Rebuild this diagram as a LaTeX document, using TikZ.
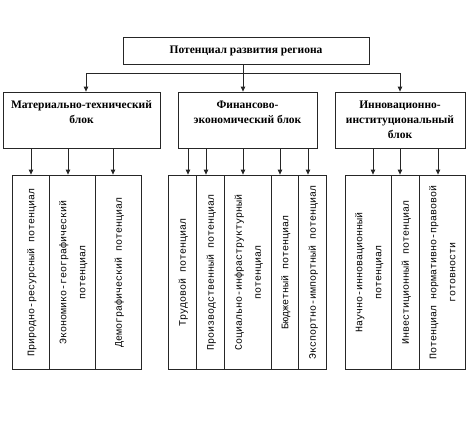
\documentclass[tikz,border=0pt]{standalone}
\usepackage{fontspec}
\setmainfont{Liberation Serif}
\newfontfamily\cellfont{Liberation Mono}
\usetikzlibrary{arrows.meta}
\newcommand{\vtext}[1]{\rotatebox{90}{\cellfont\fontsize{10}{19}\selectfont\begin{tabular}{@{}c@{}}#1\end{tabular}}}
\tikzset{
  box/.style={draw=black!85, line width=0.8pt, fill=white, inner sep=0pt, align=center},
  topbox/.style={box, font=\bfseries\fontsize{11.5}{15}\selectfont},
  blockbox/.style={box, font=\bfseries\fontsize{11.5}{15}\selectfont},
  cellbox/.style={box, minimum height=194pt},
  arr/.style={draw=black!85, line width=0.8pt, -{Triangle[length=5pt,width=4.5pt]}},
  ln/.style={draw=black!85, line width=0.8pt}
}
\begin{document}
\begin{tikzpicture}[x=1pt,y=-1pt]
\useasboundingbox (0,0) rectangle (474,434);
% top
\node[topbox, minimum width=246pt, minimum height=27pt] (top) at (246,50.5) {Потенциал развития региона};
% blocks
\node[blockbox, minimum width=157pt, minimum height=56pt] (b1) at (81.5,120) {Материально-технический\\блок\\\mbox{}};
\node[blockbox, minimum width=139pt, minimum height=56pt] (b2) at (247.5,120) {Финансово-\\экономический блок\\\mbox{}};
\node[blockbox, minimum width=130pt, minimum height=56pt] (b3) at (400,120) {Инновационно-\\институциональный\\блок};
% connectors top -> blocks
\coordinate (h) at (243,73);
\coordinate (hl) at (86,73);
\coordinate (hr) at (400,73);
\draw[ln] (top.south -| h) -- (h);
\draw[ln] (hl) -- (hr);
\draw[arr] (hl) -- (b1.north -| hl);
\draw[arr] (h) -- (b2.north -| h);
\draw[arr] (hr) -- (b3.north -| hr);
% cells group 1
\node[cellbox, minimum width=37pt] (c11) at (30.5,272) {\vtext{Природно-ресурсный потенциал}};
\node[cellbox, minimum width=46pt] (c12) at (72,272) {\vtext{Экономико-географический\\потенциал}};
\node[cellbox, minimum width=46pt] (c13) at (118,272) {\vtext{Демографический потенциал}};
% cells group 2
\node[cellbox, minimum width=28pt] (c21) at (182,272) {\vtext{Трудовой потенциал}};
\node[cellbox, minimum width=28pt] (c22) at (210,272) {\vtext{Производственный потенциал}};
\node[cellbox, minimum width=47pt] (c23) at (247.5,272) {\vtext{Социально-инфраструктурный\\потенциал}};
\node[cellbox, minimum width=27pt] (c24) at (284.5,272) {\vtext{Бюджетный потенциал}};
\node[cellbox, minimum width=28pt] (c25) at (312,272) {\vtext{Экспортно-импортный потенциал}};
% cells group 3
\node[cellbox, minimum width=46pt] (c31) at (368,272) {\vtext{Научно-инновационный\\потенциал}};
\node[cellbox, minimum width=28pt] (c32) at (405,272) {\vtext{Инвестиционный потенциал}};
\node[cellbox, minimum width=46pt] (c33) at (442,272) {\vtext{Потенциал нормативно-правовой\\готовности}};
% arrows blocks -> cells
\draw[arr] (b1.south -| 31,0) -- (c11.north -| 31,0);
\draw[arr] (b1.south -| 68,0) -- (c12.north -| 68,0);
\draw[arr] (b1.south -| 113,0) -- (c13.north -| 113,0);
\draw[arr] (b2.south -| 188,0) -- (c21.north -| 188,0);
\draw[arr] (b2.south -| 206,0) -- (c22.north -| 206,0);
\draw[arr] (b2.south -| 243,0) -- (c23.north -| 243,0);
\draw[arr] (b2.south -| 280,0) -- (c24.north -| 280,0);
\draw[arr] (b2.south -| 308,0) -- (c25.north -| 308,0);
\draw[arr] (b3.south -| 373,0) -- (c31.north -| 373,0);
\draw[arr] (b3.south -| 400,0) -- (c32.north -| 400,0);
\draw[arr] (b3.south -| 438,0) -- (c33.north -| 438,0);
\end{tikzpicture}
\end{document}
